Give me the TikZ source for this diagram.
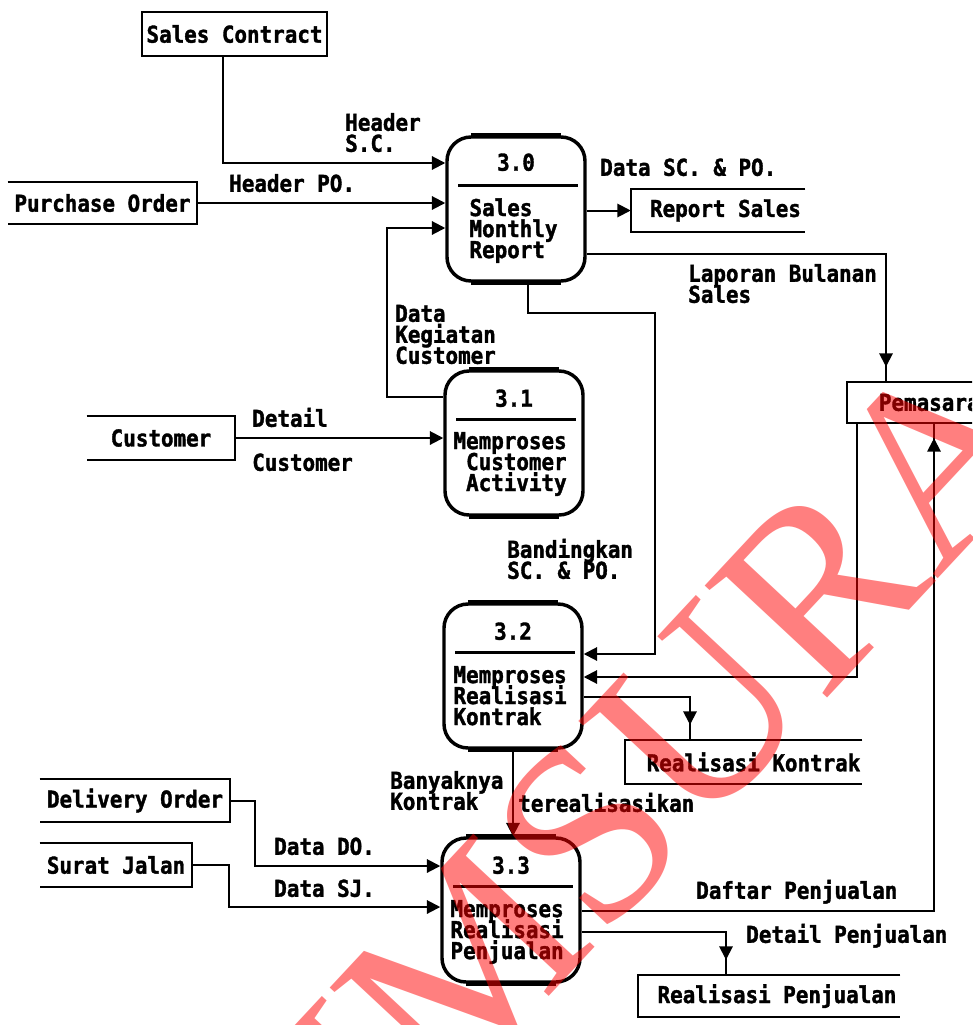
\documentclass[tikz,border=0pt]{standalone}
\usepackage{fontspec}
\usetikzlibrary{arrows.meta,calc,decorations.markings}
\newfontfamily\dfdfam[FakeStretch=0.9,FakeBold=1.5]{DejaVu Sans Mono}
\newfontfamily\wmfam{Liberation Serif}
\newdimen\PX \PX=0.75pt
\newcommand\dfdfont{\dfdfam\bfseries\fontsize{17.4}{15.75}\selectfont\lineskiplimit=-100pt\lineskip=0pt\relax}
\newcommand\fst{\rule{0pt}{20\PX}}
\begin{document}
\begin{tikzpicture}[x=0.75pt,y=-0.75pt,
  proc/.style={draw, line width=2.6pt, rounded corners=18pt, minimum width=103.5pt, minimum height=108pt, inner sep=0pt},
  ent/.style={inner sep=0pt, font=\dfdfont},
  lbl/.style={anchor=north west, inner sep=0pt, align=left, font=\dfdfont},
  num/.style={inner sep=0pt, font=\dfdfont},
  edge/.style={line width=1.5pt},
  heavy/.style={line width=3.6pt},
  flow/.style={line width=1.5pt, -{Triangle[length=10pt,width=10pt]}},
  flowgap/.style={line width=1.5pt, postaction={decorate},
    decoration={markings, mark=at position -11.25pt with {\arrow{Triangle[length=10pt,width=10pt]}}}},
  div/.style={line width=1.9pt},
  wm/.style={inner sep=0pt, font=\wmfam\fontsize{190}{190}\selectfont, text=red, text opacity=0.5}]
\useasboundingbox (0,0) rectangle (972,1025);
\clip (0,0) rectangle (972,1025);

% ---------- processes ----------
\node[proc] (p30) at (516,209) {};
\node[proc] (p31) at (514,443) {};
\node[proc] (p32) at (513,676) {};
\node[proc] (p33) at (511,910) {};
\foreach \p in {p30,p31,p32,p33}{
  \draw[div] ($(\p.north west)+(13,50)$) -- ($(\p.north east)+(-9,50)$);
  \draw[heavy] ($(\p.north west)+(26,0)$) -- ($(\p.north east)+(-26,0)$);
  \draw[heavy] ($(\p.south west)+(26,0)$) -- ($(\p.south east)+(-26,0)$);
}
\node[num] (p30n) at ($(p30.north)+(0,27)$) {3.0};
\node[num] (p31n) at ($(p31.north)+(0,29)$) {3.1};
\node[num] (p32n) at ($(p32.north)+(0,29)$) {3.2};
\node[num] (p33n) at ($(p33.north)+(0,29)$) {3.3};
\node[lbl] (p30t) at ($(p30.north west)+(24,60.5)$) {\fst Sales\\Monthly\\Report};
\node[lbl] (p31t) at ($(p31.north west)+(10,59.5)$) {\fst Memproses\\\phantom{M}Customer\\\phantom{M}Activity};
\node[lbl] (p32t) at ($(p32.north west)+(11,60.5)$) {\fst Memproses\\Realisasi\\Kontrak};
\node[lbl] (p33t) at ($(p33.north west)+(10,60.5)$) {\fst Memproses\\Realisasi\\Penjualan};

% ---------- external entities ----------
\node[ent, minimum width=138.75pt, minimum height=33pt] (sc) at (234.5,34) {Sales Contract};
\draw[edge] (sc.north west) rectangle (sc.south east);
\node[ent, minimum width=141.75pt, minimum height=31.5pt] (po) at (102.5,203) {Purchase Order};
\draw[edge] (po.north west) -- (po.north east) -- (po.south east) -- (po.south west);
\node[ent, minimum width=111pt, minimum height=33pt] (cu) at (161,438) {Customer};
\draw[edge] (cu.north west) -- (cu.north east) -- (cu.south east) -- (cu.south west);
\node[ent, minimum width=142.5pt, minimum height=32.25pt] (do) at (135,800.5) {Delivery Order};
\draw[edge] (do.north west) -- (do.north east) -- (do.south east) -- (do.south west);
\node[ent, minimum width=114pt, minimum height=33pt] (sj) at (116,865) {Surat Jalan};
\draw[edge] (sj.north west) -- (sj.north east) -- (sj.south east) -- (sj.south west);
\node[ent, minimum width=122.25pt, minimum height=30.75pt] (pem) at (928.5,402.5) {\hspace*{14\PX}Pemasaran};
\draw[edge] (pem.north west) rectangle (pem.south east);

% ---------- data stores ----------
\node[ent, minimum width=130.5pt, minimum height=32.25pt] (rs) at (718,210.5) {\hspace*{15\PX}Report Sales};
\draw[edge] (rs.north east) -- (rs.north west) -- (rs.south west) -- (rs.south east);
\node[ent, minimum width=177.75pt, minimum height=33pt] (rk) at (743.5,762) {\hspace*{20\PX}Realisasi Kontrak};
\draw[edge] (rk.north east) -- (rk.north west) -- (rk.south west) -- (rk.south east);
\node[ent, minimum width=196.5pt, minimum height=31.5pt] (rp) at (769,996) {\hspace*{16\PX}Realisasi Penjualan};
\draw[edge] (rp.north east) -- (rp.north west) -- (rp.south west) -- (rp.south east);

% ---------- bend points ----------
\coordinate (hsc) at (223,163);
\coordinate (dk) at (387,228);
\coordinate (dkb) at (387,397);
\coordinate (lb) at (886,254);
\coordinate (b1) at (528,313);
\coordinate (b2) at (655,313);
\coordinate (b3) at (655,654);
\coordinate (pm) at (857,677);
\coordinate (rk1) at (690,697);
\coordinate (do1) at (255,866);
\coordinate (sj1) at (229,907);
\coordinate (dp) at (934,911);
\coordinate (dt) at (726,932);

% ---------- flows ----------
\draw[flow] (sc.south -| hsc) -- (hsc) -- (hsc -| p30.west);
\draw[flow] (po.east) -- (po.east -| p30.west);
\draw[flow] (dkb -| p31.west) -- (dkb) -- (dk) -- (dk -| p30.west);
\draw[flow] (p30.east |- rs.west) -- (rs.west);
\draw[flowgap] (lb -| p30.east) -- (lb) -- (lb |- pem.north);
\draw[flow] (b1 |- p30.south) -- (b1) -- (b2) -- (b3) -- (b3 -| p32.east);
\draw[flow] (cu.east) -- (cu.east -| p31.west);
\draw[flow] (pem.south -| pm) -- (pm) -- (pm -| p32.east);
\draw[flowgap] (rk1 -| p32.east) -- (rk1) -- (rk1 |- rk.north);
\draw[flow] (p32.south) -- (p32.south |- p33.north);
\draw[flow] (do.east) -| (do1) -- (do1 -| p33.west);
\draw[flow] (sj.east) -| (sj1) -- (sj1 -| p33.west);
\draw[flowgap] (dp -| p33.east) -- (dp) -- (dp |- pem.south);
\draw[flowgap] (dt -| p33.east) -- (dt) -- (dt |- rp.north);

% ---------- flow labels ----------
\node[lbl] (l1) at (345,110.5) {\fst Header\\S.C.};
\node[lbl] (l2) at (229,171.5) {\fst Header PO.};
\node[lbl] (l3) at (600,155.5) {\fst Data SC. \& PO.};
\node[lbl] (l4) at (688,261.5) {\fst Laporan Bulanan\\Sales};
\node[lbl] (l5) at (395,301.5) {\fst Data\\Kegiatan\\Customer};
\node[lbl] (l6) at (252,406.5) {\fst Detail};
\node[lbl] (l7) at (252,450.5) {\fst Customer};
\node[lbl] (l8) at (507,537.5) {\fst Bandingkan\\SC. \& PO.};
\node[lbl] (l9) at (390,768.5) {\fst Banyaknya\\Kontrak};
\node[lbl] (l10) at (518,791.5) {\fst terealisasikan};
\node[lbl] (l11) at (274,834.5) {\fst Data DO.};
\node[lbl] (l12) at (274,876.5) {\fst Data SJ.};
\node[lbl] (l13) at (696,878.5) {\fst Daftar Penjualan};
\node[lbl] (l14) at (746,922.5) {\fst Detail Penjualan};

% ---------- watermark ----------
\node[wm, rotate=47, anchor=base west] (wmk) at (322,1240) {UMSURA};
\end{tikzpicture}
\end{document}
